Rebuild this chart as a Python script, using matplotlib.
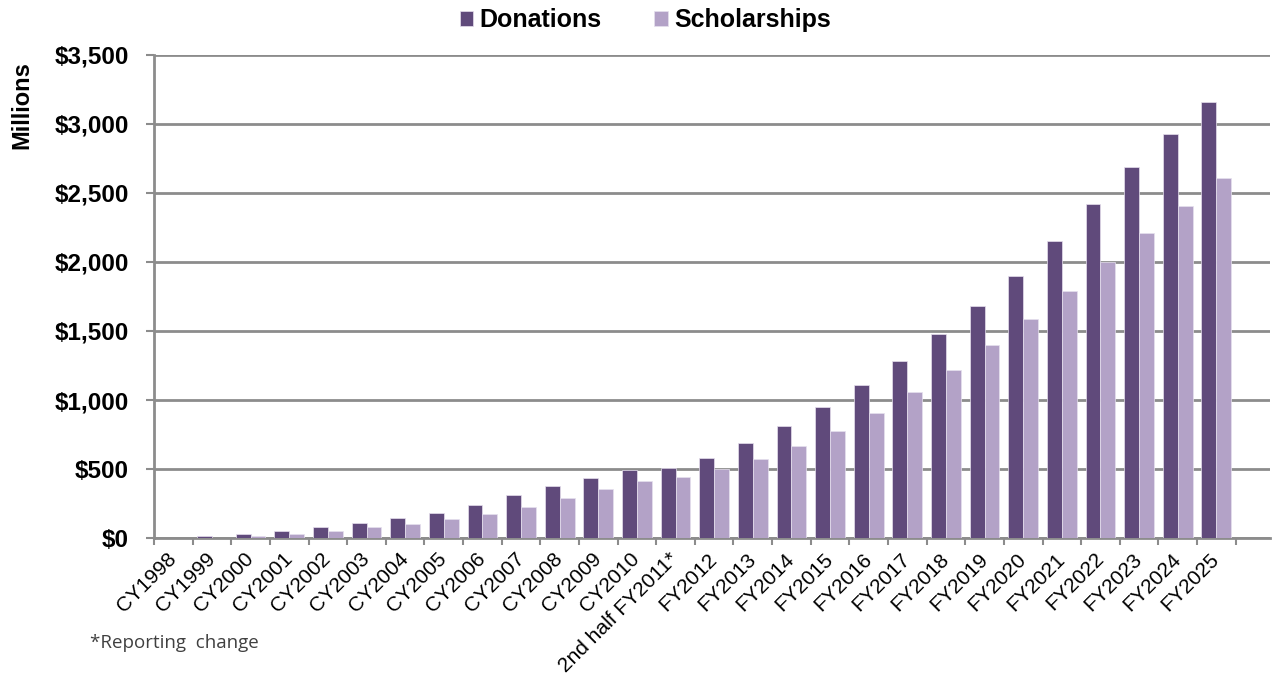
import numpy as np
import matplotlib.pyplot as plt

# Donations vs scholarships, millions of dollars
categories = ['CY1998', 'CY1999', 'CY2000', 'CY2001', 'CY2002', 'CY2003', 'CY2004',
              'CY2005', 'CY2006', 'CY2007', 'CY2008', 'CY2009', 'CY2010',
              '2nd half FY2011*', 'FY2012', 'FY2013', 'FY2014', 'FY2015', 'FY2016',
              'FY2017', 'FY2018', 'FY2019', 'FY2020', 'FY2021', 'FY2022', 'FY2023',
              'FY2024', 'FY2025']
donations = [0, 12, 31, 53, 82, 111, 142, 183, 241, 314, 377, 437, 493,
             507, 578, 688, 812, 952, 1109, 1283, 1476, 1681, 1899, 2150,
             2420, 2686, 2925, 3157]
scholarships = [0, 2, 14, 29, 53, 77, 104, 135, 174, 227, 292, 352, 410,
                439, 500, 572, 664, 778, 908, 1056, 1220, 1396, 1589, 1788,
                2002, 2208, 2404, 2606]
y_ticks = [0, 500, 1000, 1500, 2000, 2500, 3000, 3500]

DARK = '#604a7b'
LIGHT = '#b3a2c7'
GRID = '#8c8c8c'

plt.rcParams['font.family'] = ['Liberation Sans', 'DejaVu Sans']

fig = plt.figure(figsize=(12.73, 6.77), dpi=100)
ax = fig.add_axes([0.1210, 0.2053, 0.877, 0.7135])

x = np.arange(len(categories))
w = 0.385
ax.bar(x - w / 2, donations, w, color=DARK, edgecolor='#e6e0ee', linewidth=0.5,
       label='Donations', zorder=3)
ax.bar(x + w / 2, scholarships, w, color=LIGHT, edgecolor='#e6e0ee', linewidth=0.5,
       label='Scholarships', zorder=3)

ax.set_ylim(0, 3500)
ax.set_xlim(-0.5, len(categories) + 0.4)
ax.set_yticks(y_ticks)
ax.set_yticklabels([f'${v:,}' for v in y_ticks], fontsize=17.5, fontweight='bold')
ax.yaxis.grid(True, color=GRID, linewidth=2, zorder=0)
ax.tick_params(axis='y', length=6, width=1.5, color=GRID, pad=12)

# labels centred on the groups, small tick marks between them
ax.set_xticks(x)
ax.set_xticklabels(categories, rotation=45, ha='right', va='center',
                   rotation_mode='anchor', fontsize=15)
ax.tick_params(axis='x', which='major', length=0, pad=13)
ax.set_xticks(np.arange(len(categories) + 1) - 0.5, minor=True)
ax.tick_params(axis='x', which='minor', length=5, width=1.5, color=GRID)

for side in ['top', 'right']:
    ax.spines[side].set_visible(False)
for side in ['left', 'bottom']:
    ax.spines[side].set_color(GRID)
    ax.spines[side].set_linewidth(2)

fig.legend(loc='center', bbox_to_anchor=(0.507, 0.97), ncol=2, frameon=False,
           prop={'size': 18, 'weight': 'bold'}, handlelength=0.55, handleheight=0.55,
           handletextpad=0.25, columnspacing=2.1)

fig.text(22 / 1273, 1 - 105 / 677, 'Millions', rotation=90, ha='center', va='center',
         fontsize=17, fontweight='bold')
fig.text(90 / 1273, 1 - 643 / 677, '*Reporting  change', ha='left', va='center',
         fontsize=13.5, color='#404040', family=['Open Sans', 'DejaVu Sans'])

fig.savefig('out.png', dpi=100)
